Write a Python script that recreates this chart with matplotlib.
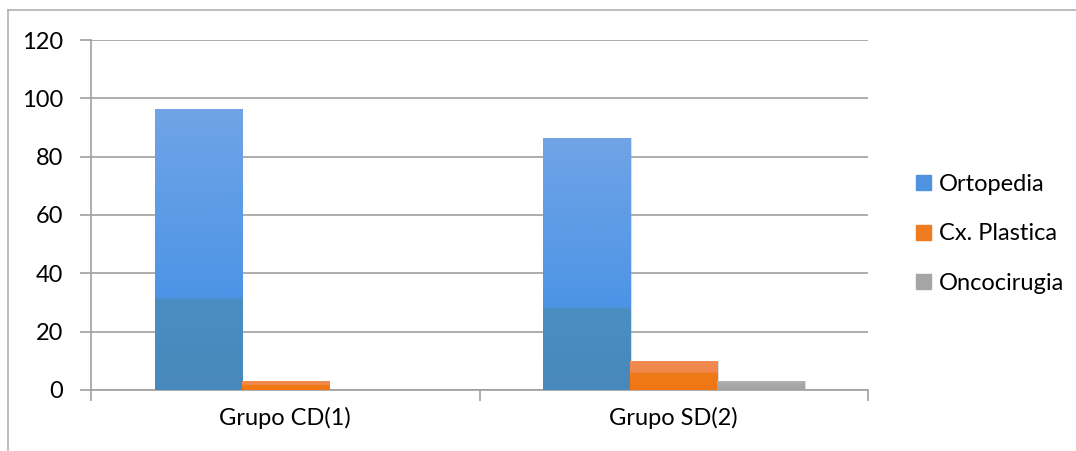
import numpy as np
import matplotlib.pyplot as plt
from matplotlib.colors import LinearSegmentedColormap
from matplotlib.patches import Rectangle
from matplotlib.lines import Line2D

plt.rcParams['font.family'] = ['Lato', 'DejaVu Sans']

groups = ['Grupo CD(1)', 'Grupo SD(2)']
series = ['Ortopedia', 'Cx. Plastica', 'Oncocirugia']
ortopedia = [96.5, 86.5]
cx_plastica = [3, 10]
oncocirugia = [0, 3]
values = [ortopedia, cx_plastica, oncocirugia]

# gradient stops (bottom -> top) imitating the Excel bar shading
shades = [
    [(0, '#4888BA'), (0.32, '#4A8EC2'), (0.33, '#4D94E6'), (1, '#70A4E6')],
    [(0, '#EF7612'), (0.55, '#F07A18'), (0.6, '#F0884C'), (1, '#F28C52')],
    [(0, '#A2A2A2'), (0.5, '#A6A6A6'), (1, '#B2B2B2')],
]
legend_colors = ['#4F93E0', '#F07A20', '#A5A5A5']

fig = plt.figure(figsize=(10.76, 4.51), dpi=100)
ax = fig.add_axes([0.0846, 0.1353, 0.7221, 0.776])

# outer chart border (only top and left visible in the crop)
fig.add_artist(Line2D([0.0075, 1.0], [0.978, 0.978], color='#B0B0B0', lw=1.2))
fig.add_artist(Line2D([0.0075, 0.0075], [0.0, 0.978], color='#B0B0B0', lw=1.2))

x = np.arange(len(groups))
w = 0.224
grad = np.linspace(0, 1, 256).reshape(-1, 1)
for i, (vals, stops) in enumerate(zip(values, shades)):
    cmap = LinearSegmentedColormap.from_list('s%d' % i, stops)
    bars = ax.bar(x + (i - 1) * w, vals, w, color='none', edgecolor='none', zorder=3)
    for b in bars:
        h = b.get_height()
        if h <= 0:
            continue
        x0 = b.get_x()
        # soft shadow
        ax.add_patch(Rectangle((x0 + 0.004, 0), w, h, facecolor='#9AA0B8', alpha=0.35,
                               edgecolor='none', zorder=2.5))
        im = ax.imshow(grad, cmap=cmap, origin='lower', aspect='auto',
                       extent=[x0, x0 + w, 0, h], zorder=3)
        im.set_clip_path(b)

ax.set_xlim(-0.5, 1.5)
ax.set_ylim(0, 120)
ax.set_yticks(range(0, 121, 20))
ax.set_xticks(x)
ax.set_xticklabels(groups)
ax.set_xticks([-0.5, 0.5, 1.5], minor=True)
ax.tick_params(axis='x', which='major', length=0, pad=12, labelsize=17)
ax.tick_params(axis='x', which='minor', length=8, color='#A0A0A0', width=1.2)
ax.tick_params(axis='y', length=8, color='#A0A0A0', width=1.2, pad=12, labelsize=17)
ax.grid(axis='y', color='#A0A0A0', lw=1.2, zorder=0)
ax.set_axisbelow(True)
for s in ['top', 'right']:
    ax.spines[s].set_visible(False)
ax.spines['left'].set_color('#A0A0A0')
ax.spines['bottom'].set_color('#A0A0A0')
ax.spines['left'].set_linewidth(1.2)
ax.spines['bottom'].set_linewidth(1.2)

handles = [Rectangle((0, 0), 1, 1, color=c) for c in legend_colors]
ax.legend(handles, series, loc='center left', bbox_to_anchor=(1.035, 0.446),
          frameon=False, fontsize=17, handlelength=0.6, handleheight=0.6,
          handletextpad=0.35, labelspacing=1.2)

fig.savefig('out.png', dpi=100)
